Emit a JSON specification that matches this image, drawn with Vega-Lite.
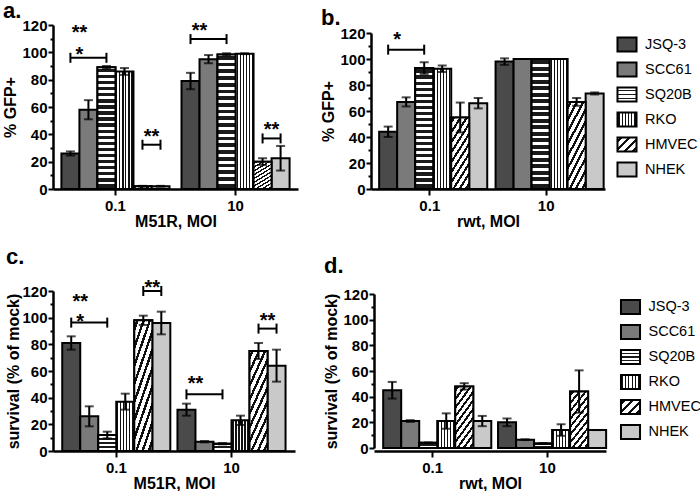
{
"$schema": "https://vega.github.io/schema/vega-lite/v6.json",
"background": "white",
"padding": {"left": 2, "top": 0, "right": 0, "bottom": 0},
"params": [
  {"name": "gh", "value": {"gradient": "linear", "x1": 0, "y1": 0, "x2": 0, "y2": 1, "stops": [
      {"offset": 0, "color": "#ffffff"},
      {"offset": 0.011, "color": "#ffffff"}, {"offset": 0.011, "color": "#1a1a1a"}, {"offset": 0.039, "color": "#1a1a1a"}, {"offset": 0.039, "color": "#ffffff"},
      {"offset": 0.061, "color": "#ffffff"}, {"offset": 0.061, "color": "#1a1a1a"}, {"offset": 0.089, "color": "#1a1a1a"}, {"offset": 0.089, "color": "#ffffff"},
      {"offset": 0.111, "color": "#ffffff"}, {"offset": 0.111, "color": "#1a1a1a"}, {"offset": 0.139, "color": "#1a1a1a"}, {"offset": 0.139, "color": "#ffffff"},
      {"offset": 0.161, "color": "#ffffff"}, {"offset": 0.161, "color": "#1a1a1a"}, {"offset": 0.189, "color": "#1a1a1a"}, {"offset": 0.189, "color": "#ffffff"},
      {"offset": 0.211, "color": "#ffffff"}, {"offset": 0.211, "color": "#1a1a1a"}, {"offset": 0.239, "color": "#1a1a1a"}, {"offset": 0.239, "color": "#ffffff"},
      {"offset": 0.261, "color": "#ffffff"}, {"offset": 0.261, "color": "#1a1a1a"}, {"offset": 0.289, "color": "#1a1a1a"}, {"offset": 0.289, "color": "#ffffff"},
      {"offset": 0.311, "color": "#ffffff"}, {"offset": 0.311, "color": "#1a1a1a"}, {"offset": 0.339, "color": "#1a1a1a"}, {"offset": 0.339, "color": "#ffffff"},
      {"offset": 0.361, "color": "#ffffff"}, {"offset": 0.361, "color": "#1a1a1a"}, {"offset": 0.389, "color": "#1a1a1a"}, {"offset": 0.389, "color": "#ffffff"},
      {"offset": 0.411, "color": "#ffffff"}, {"offset": 0.411, "color": "#1a1a1a"}, {"offset": 0.439, "color": "#1a1a1a"}, {"offset": 0.439, "color": "#ffffff"},
      {"offset": 0.461, "color": "#ffffff"}, {"offset": 0.461, "color": "#1a1a1a"}, {"offset": 0.489, "color": "#1a1a1a"}, {"offset": 0.489, "color": "#ffffff"},
      {"offset": 0.511, "color": "#ffffff"}, {"offset": 0.511, "color": "#1a1a1a"}, {"offset": 0.539, "color": "#1a1a1a"}, {"offset": 0.539, "color": "#ffffff"},
      {"offset": 0.561, "color": "#ffffff"}, {"offset": 0.561, "color": "#1a1a1a"}, {"offset": 0.589, "color": "#1a1a1a"}, {"offset": 0.589, "color": "#ffffff"},
      {"offset": 0.611, "color": "#ffffff"}, {"offset": 0.611, "color": "#1a1a1a"}, {"offset": 0.639, "color": "#1a1a1a"}, {"offset": 0.639, "color": "#ffffff"},
      {"offset": 0.661, "color": "#ffffff"}, {"offset": 0.661, "color": "#1a1a1a"}, {"offset": 0.689, "color": "#1a1a1a"}, {"offset": 0.689, "color": "#ffffff"},
      {"offset": 0.711, "color": "#ffffff"}, {"offset": 0.711, "color": "#1a1a1a"}, {"offset": 0.739, "color": "#1a1a1a"}, {"offset": 0.739, "color": "#ffffff"},
      {"offset": 0.761, "color": "#ffffff"}, {"offset": 0.761, "color": "#1a1a1a"}, {"offset": 0.789, "color": "#1a1a1a"}, {"offset": 0.789, "color": "#ffffff"},
      {"offset": 0.811, "color": "#ffffff"}, {"offset": 0.811, "color": "#1a1a1a"}, {"offset": 0.839, "color": "#1a1a1a"}, {"offset": 0.839, "color": "#ffffff"},
      {"offset": 0.861, "color": "#ffffff"}, {"offset": 0.861, "color": "#1a1a1a"}, {"offset": 0.889, "color": "#1a1a1a"}, {"offset": 0.889, "color": "#ffffff"},
      {"offset": 0.911, "color": "#ffffff"}, {"offset": 0.911, "color": "#1a1a1a"}, {"offset": 0.939, "color": "#1a1a1a"}, {"offset": 0.939, "color": "#ffffff"},
      {"offset": 0.961, "color": "#ffffff"}, {"offset": 0.961, "color": "#1a1a1a"}, {"offset": 0.989, "color": "#1a1a1a"}, {"offset": 0.989, "color": "#ffffff"},
      {"offset": 1, "color": "#ffffff"}
    ]}},
  {"name": "gv", "value": {"gradient": "linear", "x1": 0, "y1": 0, "x2": 1, "y2": 0, "stops": [
      {"offset": 0, "color": "#ffffff"},
      {"offset": 0.053, "color": "#ffffff"}, {"offset": 0.053, "color": "#111111"}, {"offset": 0.113, "color": "#111111"}, {"offset": 0.113, "color": "#ffffff"},
      {"offset": 0.22, "color": "#ffffff"}, {"offset": 0.22, "color": "#111111"}, {"offset": 0.28, "color": "#111111"}, {"offset": 0.28, "color": "#ffffff"},
      {"offset": 0.387, "color": "#ffffff"}, {"offset": 0.387, "color": "#111111"}, {"offset": 0.447, "color": "#111111"}, {"offset": 0.447, "color": "#ffffff"},
      {"offset": 0.553, "color": "#ffffff"}, {"offset": 0.553, "color": "#111111"}, {"offset": 0.613, "color": "#111111"}, {"offset": 0.613, "color": "#ffffff"},
      {"offset": 0.72, "color": "#ffffff"}, {"offset": 0.72, "color": "#111111"}, {"offset": 0.78, "color": "#111111"}, {"offset": 0.78, "color": "#ffffff"},
      {"offset": 0.887, "color": "#ffffff"}, {"offset": 0.887, "color": "#111111"}, {"offset": 0.947, "color": "#111111"}, {"offset": 0.947, "color": "#ffffff"},
      {"offset": 1, "color": "#ffffff"}
    ]}},
  {"name": "gd", "value": {"gradient": "linear", "x1": 0, "y1": 0, "x2": 0.48, "y2": 1.2, "stops": [
      {"offset": 0, "color": "#ffffff"},
      {"offset": 0.03, "color": "#ffffff"}, {"offset": 0.03, "color": "#111111"}, {"offset": 0.07, "color": "#111111"}, {"offset": 0.07, "color": "#ffffff"},
      {"offset": 0.13, "color": "#ffffff"}, {"offset": 0.13, "color": "#111111"}, {"offset": 0.17, "color": "#111111"}, {"offset": 0.17, "color": "#ffffff"},
      {"offset": 0.23, "color": "#ffffff"}, {"offset": 0.23, "color": "#111111"}, {"offset": 0.27, "color": "#111111"}, {"offset": 0.27, "color": "#ffffff"},
      {"offset": 0.33, "color": "#ffffff"}, {"offset": 0.33, "color": "#111111"}, {"offset": 0.37, "color": "#111111"}, {"offset": 0.37, "color": "#ffffff"},
      {"offset": 0.43, "color": "#ffffff"}, {"offset": 0.43, "color": "#111111"}, {"offset": 0.47, "color": "#111111"}, {"offset": 0.47, "color": "#ffffff"},
      {"offset": 0.53, "color": "#ffffff"}, {"offset": 0.53, "color": "#111111"}, {"offset": 0.57, "color": "#111111"}, {"offset": 0.57, "color": "#ffffff"},
      {"offset": 0.63, "color": "#ffffff"}, {"offset": 0.63, "color": "#111111"}, {"offset": 0.67, "color": "#111111"}, {"offset": 0.67, "color": "#ffffff"},
      {"offset": 0.73, "color": "#ffffff"}, {"offset": 0.73, "color": "#111111"}, {"offset": 0.77, "color": "#111111"}, {"offset": 0.77, "color": "#ffffff"},
      {"offset": 0.83, "color": "#ffffff"}, {"offset": 0.83, "color": "#111111"}, {"offset": 0.87, "color": "#111111"}, {"offset": 0.87, "color": "#ffffff"},
      {"offset": 0.93, "color": "#ffffff"}, {"offset": 0.93, "color": "#111111"}, {"offset": 0.97, "color": "#111111"}, {"offset": 0.97, "color": "#ffffff"},
      {"offset": 1, "color": "#ffffff"}
    ]}},
  {"name": "ghl", "value": {"gradient": "linear", "x1": 0, "y1": 0, "x2": 0, "y2": 1, "stops": [
      {"offset": 0, "color": "#ffffff"},
      {"offset": 0.18, "color": "#ffffff"}, {"offset": 0.18, "color": "#1a1a1a"}, {"offset": 0.28, "color": "#1a1a1a"}, {"offset": 0.28, "color": "#ffffff"},
      {"offset": 0.45, "color": "#ffffff"}, {"offset": 0.45, "color": "#1a1a1a"}, {"offset": 0.55, "color": "#1a1a1a"}, {"offset": 0.55, "color": "#ffffff"},
      {"offset": 0.72, "color": "#ffffff"}, {"offset": 0.72, "color": "#1a1a1a"}, {"offset": 0.82, "color": "#1a1a1a"}, {"offset": 0.82, "color": "#ffffff"},
      {"offset": 1, "color": "#ffffff"}
    ]}},
  {"name": "gdl", "value": {"gradient": "linear", "x1": 0, "y1": 0, "x2": 1.12, "y2": 0.83, "stops": [
      {"offset": 0, "color": "#ffffff"},
      {"offset": 0.08, "color": "#ffffff"}, {"offset": 0.08, "color": "#111111"}, {"offset": 0.17, "color": "#111111"}, {"offset": 0.17, "color": "#ffffff"},
      {"offset": 0.33, "color": "#ffffff"}, {"offset": 0.33, "color": "#111111"}, {"offset": 0.42, "color": "#111111"}, {"offset": 0.42, "color": "#ffffff"},
      {"offset": 0.58, "color": "#ffffff"}, {"offset": 0.58, "color": "#111111"}, {"offset": 0.67, "color": "#111111"}, {"offset": 0.67, "color": "#ffffff"},
      {"offset": 0.83, "color": "#ffffff"}, {"offset": 0.83, "color": "#111111"}, {"offset": 0.92, "color": "#111111"}, {"offset": 0.92, "color": "#ffffff"},
      {"offset": 1, "color": "#ffffff"}
    ]}}
],
"config": {
  "font": "Liberation Sans",
  "view": {"stroke": null},
  "axis": {"domainColor": "black", "domainWidth": 2.5, "tickColor": "black", "tickWidth": 2, "labelFontWeight": "bold", "labelFontSize": 15, "labelColor": "black", "titleFontWeight": "bold", "titleFontSize": 16, "titleColor": "black", "grid": false, "labelFont": "Liberation Sans", "titleFont": "Liberation Sans"},
  "title": {"fontSize": 22, "fontWeight": "bold", "anchor": "start", "frame": "bounds", "baseline": "alphabetic", "color": "black", "font": "Liberation Sans"},
  "legend": {"title": null, "orient": "none", "padding": 0, "symbolType": "M-1.36,-1H1.36V1H-1.36Z", "symbolSize": 196, "symbolStrokeColor": "black", "symbolStrokeWidth": 2, "labelFontSize": 14.5, "labelOffset": 10, "rowPadding": 3, "labelColor": "black", "labelFont": "Liberation Sans"}
},
"datasets": {
  "bars": [
    {"panel": "a", "MOI": "0.1", "cell": "JSQ-3", "value": 26, "err": 1.5},
    {"panel": "a", "MOI": "0.1", "cell": "SCC61", "value": 58, "err": 7},
    {"panel": "a", "MOI": "0.1", "cell": "SQ20B", "value": 89, "err": 1},
    {"panel": "a", "MOI": "0.1", "cell": "RKO", "value": 86, "err": 2.5},
    {"panel": "a", "MOI": "0.1", "cell": "HMVEC", "value": 2, "err": 0.3},
    {"panel": "a", "MOI": "0.1", "cell": "NHEK", "value": 2, "err": 0.3},
    {"panel": "a", "MOI": "10", "cell": "JSQ-3", "value": 79, "err": 6},
    {"panel": "a", "MOI": "10", "cell": "SCC61", "value": 95, "err": 3},
    {"panel": "a", "MOI": "10", "cell": "SQ20B", "value": 98.5, "err": 0.8},
    {"panel": "a", "MOI": "10", "cell": "RKO", "value": 99, "err": 0.3},
    {"panel": "a", "MOI": "10", "cell": "HMVEC", "value": 20, "err": 2.5},
    {"panel": "a", "MOI": "10", "cell": "NHEK", "value": 22.5, "err": 9},
    {"panel": "b", "MOI": "0.1", "cell": "JSQ-3", "value": 44, "err": 4},
    {"panel": "b", "MOI": "0.1", "cell": "SCC61", "value": 67, "err": 3.5},
    {"panel": "b", "MOI": "0.1", "cell": "SQ20B", "value": 93, "err": 4.5},
    {"panel": "b", "MOI": "0.1", "cell": "RKO", "value": 92.5, "err": 2.5},
    {"panel": "b", "MOI": "0.1", "cell": "HMVEC", "value": 55, "err": 11.5},
    {"panel": "b", "MOI": "0.1", "cell": "NHEK", "value": 66, "err": 4},
    {"panel": "b", "MOI": "10", "cell": "JSQ-3", "value": 98, "err": 2.5},
    {"panel": "b", "MOI": "10", "cell": "SCC61", "value": 100, "err": 0},
    {"panel": "b", "MOI": "10", "cell": "SQ20B", "value": 100, "err": 0},
    {"panel": "b", "MOI": "10", "cell": "RKO", "value": 100, "err": 0},
    {"panel": "b", "MOI": "10", "cell": "HMVEC", "value": 67, "err": 3},
    {"panel": "b", "MOI": "10", "cell": "NHEK", "value": 73.5, "err": 0.8},
    {"panel": "c", "MOI": "0.1", "cell": "JSQ-3", "value": 81, "err": 5},
    {"panel": "c", "MOI": "0.1", "cell": "SCC61", "value": 26, "err": 7.5},
    {"panel": "c", "MOI": "0.1", "cell": "SQ20B", "value": 12, "err": 2.5},
    {"panel": "c", "MOI": "0.1", "cell": "RKO", "value": 37, "err": 6},
    {"panel": "c", "MOI": "0.1", "cell": "HMVEC", "value": 98, "err": 3.5},
    {"panel": "c", "MOI": "0.1", "cell": "NHEK", "value": 96, "err": 8.5},
    {"panel": "c", "MOI": "10", "cell": "JSQ-3", "value": 31, "err": 4.5},
    {"panel": "c", "MOI": "10", "cell": "SCC61", "value": 7, "err": 0.5},
    {"panel": "c", "MOI": "10", "cell": "SQ20B", "value": 5.5, "err": 0.5},
    {"panel": "c", "MOI": "10", "cell": "RKO", "value": 23, "err": 3.5},
    {"panel": "c", "MOI": "10", "cell": "HMVEC", "value": 75, "err": 6},
    {"panel": "c", "MOI": "10", "cell": "NHEK", "value": 64, "err": 12},
    {"panel": "d", "MOI": "0.1", "cell": "JSQ-3", "value": 45, "err": 6.5},
    {"panel": "d", "MOI": "0.1", "cell": "SCC61", "value": 21, "err": 0.7},
    {"panel": "d", "MOI": "0.1", "cell": "SQ20B", "value": 4, "err": 0.3},
    {"panel": "d", "MOI": "0.1", "cell": "RKO", "value": 21, "err": 6},
    {"panel": "d", "MOI": "0.1", "cell": "HMVEC", "value": 48, "err": 2.5},
    {"panel": "d", "MOI": "0.1", "cell": "NHEK", "value": 21, "err": 4},
    {"panel": "d", "MOI": "10", "cell": "JSQ-3", "value": 20, "err": 3},
    {"panel": "d", "MOI": "10", "cell": "SCC61", "value": 6.5, "err": 0.3},
    {"panel": "d", "MOI": "10", "cell": "SQ20B", "value": 3.5, "err": 0.3},
    {"panel": "d", "MOI": "10", "cell": "RKO", "value": 14, "err": 4.5},
    {"panel": "d", "MOI": "10", "cell": "HMVEC", "value": 44, "err": 16.5},
    {"panel": "d", "MOI": "10", "cell": "NHEK", "value": 14, "err": 0}
  ],
  "brackets": [
    {"panel": "a", "id": "a1", "MOI": "0.1", "cell": "JSQ-3", "value": 96},
    {"panel": "a", "id": "a1", "MOI": "0.1", "cell": "SQ20B", "value": 96},
    {"panel": "a", "id": "a2", "MOI": "0.1", "cell": "HMVEC", "value": 32.4},
    {"panel": "a", "id": "a2", "MOI": "0.1", "cell": "NHEK", "value": 32.4},
    {"panel": "a", "id": "a3", "MOI": "10", "cell": "JSQ-3", "value": 109.7},
    {"panel": "a", "id": "a3", "MOI": "10", "cell": "SQ20B", "value": 109.7},
    {"panel": "a", "id": "a4", "MOI": "10", "cell": "HMVEC", "value": 37},
    {"panel": "a", "id": "a4", "MOI": "10", "cell": "NHEK", "value": 37},
    {"panel": "b", "id": "b1", "MOI": "0.1", "cell": "JSQ-3", "value": 107.2},
    {"panel": "b", "id": "b1", "MOI": "0.1", "cell": "SQ20B", "value": 107.2},
    {"panel": "c", "id": "c1", "MOI": "0.1", "cell": "JSQ-3", "value": 96.3},
    {"panel": "c", "id": "c1", "MOI": "0.1", "cell": "SQ20B", "value": 96.3},
    {"panel": "c", "id": "c2", "MOI": "0.1", "cell": "HMVEC", "value": 120},
    {"panel": "c", "id": "c2", "MOI": "0.1", "cell": "NHEK", "value": 120},
    {"panel": "c", "id": "c3", "MOI": "10", "cell": "JSQ-3", "value": 42.5},
    {"panel": "c", "id": "c3", "MOI": "10", "cell": "SQ20B", "value": 42.5},
    {"panel": "c", "id": "c4", "MOI": "10", "cell": "HMVEC", "value": 91.8},
    {"panel": "c", "id": "c4", "MOI": "10", "cell": "NHEK", "value": 91.8}
  ],
  "stars": [
    {"panel": "a", "MOI": "0.1", "cell": "JSQ-3", "value": 110, "label": "**"},
    {"panel": "a", "MOI": "0.1", "cell": "JSQ-3", "value": 93.6, "label": "*"},
    {"panel": "a", "MOI": "0.1", "cell": "HMVEC", "value": 33.7, "label": "**"},
    {"panel": "a", "MOI": "10", "cell": "JSQ-3", "value": 111.5, "label": "**"},
    {"panel": "a", "MOI": "10", "cell": "HMVEC", "value": 39, "label": "**"},
    {"panel": "b", "MOI": "0.1", "cell": "JSQ-3", "value": 109.8, "label": "*"},
    {"panel": "c", "MOI": "0.1", "cell": "JSQ-3", "value": 107.6, "label": "**"},
    {"panel": "c", "MOI": "0.1", "cell": "JSQ-3", "value": 92, "label": "*"},
    {"panel": "c", "MOI": "0.1", "cell": "HMVEC", "value": 117.6, "label": "**"},
    {"panel": "c", "MOI": "10", "cell": "JSQ-3", "value": 45.8, "label": "**"},
    {"panel": "c", "MOI": "10", "cell": "HMVEC", "value": 93.1, "label": "**"}
  ]
},
"resolve": {"scale": {"color": "independent"}},
"spacing": 17,
"vconcat": [
  {
    "spacing": 22,
    "resolve": {"scale": {"color": "independent"}},
    "hconcat": [
      {
        "width": 245, "height": 164,
        "title": {"text": "a.", "offset": -5},
        "encoding": {
          "x": {"field": "MOI", "type": "nominal", "sort": ["0.1", "10"], "scale": {"paddingInner": 0.1, "paddingOuter": 0.07}, "axis": {"title": "M51R, MOI", "labelAngle": 0, "tickSize": 6, "labelPadding": 3, "titlePadding": 0}},
          "xOffset": {"field": "cell", "type": "nominal", "sort": ["JSQ-3", "SCC61", "SQ20B", "RKO", "HMVEC", "NHEK"], "scale": {"domain": ["JSQ-3", "SCC61", "SQ20B", "RKO", "HMVEC", "NHEK"]}},
          "y": {"field": "value", "type": "quantitative", "scale": {"domain": [0, 120], "nice": false}, "axis": {"title": "% GFP+", "values": [0, 10, 20, 30, 40, 50, 60, 70, 80, 90, 100, 110, 120], "labelExpr": "datum.value % 20 === 0 ? datum.label : ''", "tickSize": {"condition": {"test": "datum.value % 20 === 0", "value": 5}, "value": 3}, "labelPadding": 1, "titlePadding": 3, "labelOverlap": false}}
        },
        "layer": [
          {"data": {"name": "bars"}, "transform": [{"filter": "datum.panel === 'a'"}], "mark": {"type": "bar", "stroke": "black", "strokeWidth": 2}, "encoding": {"color": {"field": "cell", "type": "nominal", "scale": {"domain": ["JSQ-3", "SCC61", "SQ20B", "RKO", "HMVEC", "NHEK"], "range": ["#4a4a4a", "#7a7a7a", {"expr": "ghl"}, {"expr": "gv"}, {"expr": "gdl"}, "#c9c9c9"]}, "legend": null}}},
          {"data": {"name": "bars"}, "transform": [{"filter": "datum.panel === 'a' && datum.cell === 'SQ20B'"}], "mark": {"type": "bar", "fill": {"expr": "gh"}, "stroke": "black", "strokeWidth": 2}},
          {"data": {"name": "bars"}, "transform": [{"filter": "datum.panel === 'a' && datum.cell === 'HMVEC'"}], "mark": {"type": "bar", "fill": {"expr": "gd"}, "stroke": "black", "strokeWidth": 2}},
          {"data": {"name": "bars"}, "transform": [{"filter": "datum.panel === 'a'"}], "mark": {"type": "errorbar", "ticks": {"size": 9}, "thickness": 2, "color": "black"}, "encoding": {"yError": {"field": "err"}}},
          {"data": {"name": "brackets"}, "transform": [{"filter": "datum.panel === 'a'"}], "mark": {"type": "line", "color": "black", "strokeWidth": 2, "xOffset": -4}, "encoding": {"detail": {"field": "id"}}},
          {"data": {"name": "brackets"}, "transform": [{"filter": "datum.panel === 'a'"}], "mark": {"type": "point", "shape": "M0,-1L0,1", "size": 100, "stroke": "black", "strokeWidth": 2, "filled": false, "opacity": 1, "xOffset": -4}},
          {"data": {"name": "stars"}, "transform": [{"filter": "datum.panel === 'a'"}], "mark": {"type": "text", "fontSize": 20, "fontWeight": "bold", "baseline": "alphabetic", "dx": 9, "color": "black"}, "encoding": {"text": {"field": "label"}}}
        ]
      },
      {
        "width": 234, "height": 164,
        "title": {"text": "b.", "offset": -5},
        "encoding": {
          "x": {"field": "MOI", "type": "nominal", "sort": ["0.1", "10"], "scale": {"paddingInner": 0.13, "paddingOuter": 0.07}, "axis": {"title": "rwt, MOI", "labelAngle": 0, "tickSize": 6, "labelPadding": 3, "titlePadding": 0}},
          "xOffset": {"field": "cell", "type": "nominal", "sort": ["JSQ-3", "SCC61", "SQ20B", "RKO", "HMVEC", "NHEK"], "scale": {"domain": ["JSQ-3", "SCC61", "SQ20B", "RKO", "HMVEC", "NHEK"]}},
          "y": {"field": "value", "type": "quantitative", "scale": {"domain": [0, 120], "nice": false, "range": [164, 8]}, "axis": {"title": "% GFP+", "values": [0, 10, 20, 30, 40, 50, 60, 70, 80, 90, 100, 110, 120], "labelExpr": "datum.value % 20 === 0 ? datum.label : ''", "tickSize": {"condition": {"test": "datum.value % 20 === 0", "value": 5}, "value": 3}, "labelPadding": 1, "titlePadding": 3, "labelOverlap": false}}
        },
        "layer": [
          {"data": {"name": "bars"}, "transform": [{"filter": "datum.panel === 'b'"}], "mark": {"type": "bar", "stroke": "black", "strokeWidth": 2}, "encoding": {"color": {"field": "cell", "type": "nominal", "sort": ["JSQ-3", "SCC61", "SQ20B", "RKO", "HMVEC", "NHEK"], "scale": {"domain": ["JSQ-3", "SCC61", "SQ20B", "RKO", "HMVEC", "NHEK"], "range": ["#4a4a4a", "#7a7a7a", {"expr": "ghl"}, {"expr": "gv"}, {"expr": "gdl"}, "#c9c9c9"]}, "legend": {"legendX": 248, "legendY": 11.5}}}},
          {"data": {"name": "bars"}, "transform": [{"filter": "datum.panel === 'b' && datum.cell === 'SQ20B'"}], "mark": {"type": "bar", "fill": {"expr": "gh"}, "stroke": "black", "strokeWidth": 2}},
          {"data": {"name": "bars"}, "transform": [{"filter": "datum.panel === 'b' && datum.cell === 'HMVEC'"}], "mark": {"type": "bar", "fill": {"expr": "gd"}, "stroke": "black", "strokeWidth": 2}},
          {"data": {"name": "bars"}, "transform": [{"filter": "datum.panel === 'b'"}], "mark": {"type": "errorbar", "ticks": {"size": 9}, "thickness": 2, "color": "black"}, "encoding": {"yError": {"field": "err"}}},
          {"data": {"name": "brackets"}, "transform": [{"filter": "datum.panel === 'b'"}], "mark": {"type": "line", "color": "black", "strokeWidth": 2, "xOffset": -4}, "encoding": {"detail": {"field": "id"}}},
          {"data": {"name": "brackets"}, "transform": [{"filter": "datum.panel === 'b'"}], "mark": {"type": "point", "shape": "M0,-1L0,1", "size": 100, "stroke": "black", "strokeWidth": 2, "filled": false, "opacity": 1, "xOffset": -4}},
          {"data": {"name": "stars"}, "transform": [{"filter": "datum.panel === 'b'"}], "mark": {"type": "text", "fontSize": 20, "fontWeight": "bold", "baseline": "alphabetic", "dx": 9, "color": "black"}, "encoding": {"text": {"field": "label"}}}
        ]
      }
    ]
  },
  {
    "spacing": 28,
    "resolve": {"scale": {"color": "independent"}},
    "hconcat": [
      {
        "width": 242, "height": 160,
        "title": {"text": "c.", "offset": 9},
        "encoding": {
          "x": {"field": "MOI", "type": "nominal", "sort": ["0.1", "10"], "scale": {"paddingInner": 0.06, "paddingOuter": 0.08}, "axis": {"title": "M51R, MOI", "labelAngle": 0, "tickSize": 6, "labelPadding": 3, "titlePadding": 0}},
          "xOffset": {"field": "cell", "type": "nominal", "sort": ["JSQ-3", "SCC61", "SQ20B", "RKO", "HMVEC", "NHEK"], "scale": {"domain": ["JSQ-3", "SCC61", "SQ20B", "RKO", "HMVEC", "NHEK"]}},
          "y": {"field": "value", "type": "quantitative", "scale": {"domain": [0, 120], "nice": false}, "axis": {"title": "survival (% of mock)", "values": [0, 10, 20, 30, 40, 50, 60, 70, 80, 90, 100, 110, 120], "labelExpr": "datum.value % 20 === 0 ? datum.label : ''", "tickSize": {"condition": {"test": "datum.value % 20 === 0", "value": 5}, "value": 3}, "labelPadding": 1, "titlePadding": 0, "labelOverlap": false}}
        },
        "layer": [
          {"data": {"name": "bars"}, "transform": [{"filter": "datum.panel === 'c'"}], "mark": {"type": "bar", "stroke": "black", "strokeWidth": 2}, "encoding": {"color": {"field": "cell", "type": "nominal", "scale": {"domain": ["JSQ-3", "SCC61", "SQ20B", "RKO", "HMVEC", "NHEK"], "range": ["#4a4a4a", "#7a7a7a", {"expr": "ghl"}, {"expr": "gv"}, {"expr": "gdl"}, "#c9c9c9"]}, "legend": null}}},
          {"data": {"name": "bars"}, "transform": [{"filter": "datum.panel === 'c' && datum.cell === 'SQ20B'"}], "mark": {"type": "bar", "fill": {"expr": "gh"}, "stroke": "black", "strokeWidth": 2}},
          {"data": {"name": "bars"}, "transform": [{"filter": "datum.panel === 'c' && datum.cell === 'HMVEC'"}], "mark": {"type": "bar", "fill": {"expr": "gd"}, "stroke": "black", "strokeWidth": 2}},
          {"data": {"name": "bars"}, "transform": [{"filter": "datum.panel === 'c'"}], "mark": {"type": "errorbar", "ticks": {"size": 9}, "thickness": 2, "color": "black"}, "encoding": {"yError": {"field": "err"}}},
          {"data": {"name": "brackets"}, "transform": [{"filter": "datum.panel === 'c'"}], "mark": {"type": "line", "color": "black", "strokeWidth": 2, "xOffset": -4}, "encoding": {"detail": {"field": "id"}}},
          {"data": {"name": "brackets"}, "transform": [{"filter": "datum.panel === 'c'"}], "mark": {"type": "point", "shape": "M0,-1L0,1", "size": 100, "stroke": "black", "strokeWidth": 2, "filled": false, "opacity": 1, "xOffset": -4}},
          {"data": {"name": "stars"}, "transform": [{"filter": "datum.panel === 'c'"}], "mark": {"type": "text", "fontSize": 20, "fontWeight": "bold", "baseline": "alphabetic", "dx": 9, "color": "black"}, "encoding": {"text": {"field": "label"}}}
        ]
      },
      {
        "width": 232, "height": 160,
        "title": {"text": "d.", "offset": 9},
        "encoding": {
          "x": {"field": "MOI", "type": "nominal", "sort": ["0.1", "10"], "scale": {"paddingInner": 0.14, "paddingOuter": 0.08}, "axis": {"title": "rwt, MOI", "labelAngle": 0, "tickSize": 6, "labelPadding": 3, "titlePadding": 0}},
          "xOffset": {"field": "cell", "type": "nominal", "sort": ["JSQ-3", "SCC61", "SQ20B", "RKO", "HMVEC", "NHEK"], "scale": {"domain": ["JSQ-3", "SCC61", "SQ20B", "RKO", "HMVEC", "NHEK"]}},
          "y": {"field": "value", "type": "quantitative", "scale": {"domain": [0, 120], "nice": false, "range": [157, 3]}, "axis": {"title": "survival (% of mock)", "values": [0, 10, 20, 30, 40, 50, 60, 70, 80, 90, 100, 110, 120], "labelExpr": "datum.value % 20 === 0 ? datum.label : ''", "tickSize": {"condition": {"test": "datum.value % 20 === 0", "value": 5}, "value": 3}, "labelPadding": 1, "titlePadding": 3, "labelOverlap": false}}
        },
        "layer": [
          {"data": {"name": "bars"}, "transform": [{"filter": "datum.panel === 'd'"}], "mark": {"type": "bar", "stroke": "black", "strokeWidth": 2}, "encoding": {"color": {"field": "cell", "type": "nominal", "sort": ["JSQ-3", "SCC61", "SQ20B", "RKO", "HMVEC", "NHEK"], "scale": {"domain": ["JSQ-3", "SCC61", "SQ20B", "RKO", "HMVEC", "NHEK"], "range": ["#4a4a4a", "#7a7a7a", {"expr": "ghl"}, {"expr": "gv"}, {"expr": "gdl"}, "#c9c9c9"]}, "legend": {"legendX": 248.5, "legendY": 8}}}},
          {"data": {"name": "bars"}, "transform": [{"filter": "datum.panel === 'd' && datum.cell === 'SQ20B'"}], "mark": {"type": "bar", "fill": {"expr": "gh"}, "stroke": "black", "strokeWidth": 2}},
          {"data": {"name": "bars"}, "transform": [{"filter": "datum.panel === 'd' && datum.cell === 'HMVEC'"}], "mark": {"type": "bar", "fill": {"expr": "gd"}, "stroke": "black", "strokeWidth": 2}},
          {"data": {"name": "bars"}, "transform": [{"filter": "datum.panel === 'd'"}], "mark": {"type": "errorbar", "ticks": {"size": 9}, "thickness": 2, "color": "black"}, "encoding": {"yError": {"field": "err"}}}
        ]
      }
    ]
  }
]
}
